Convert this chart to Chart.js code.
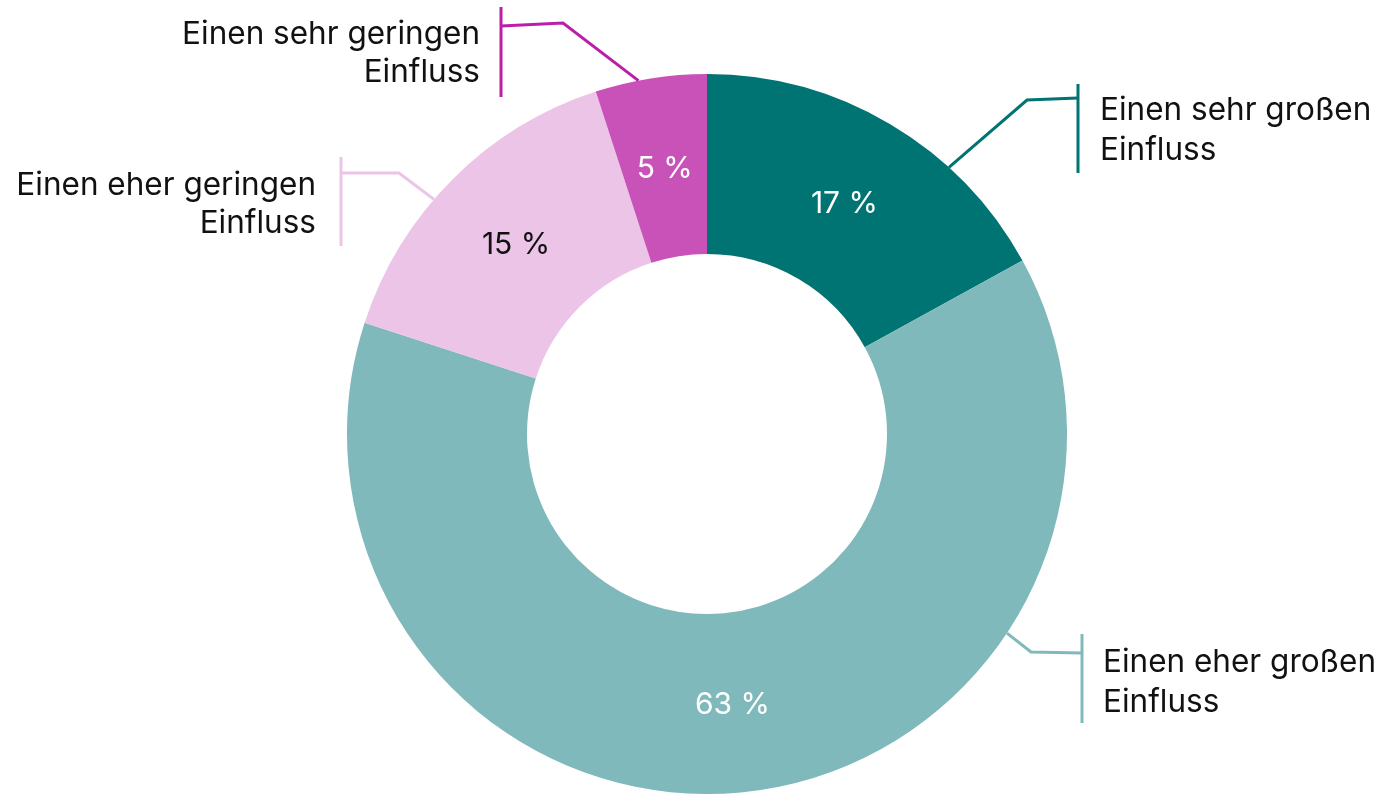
<!DOCTYPE html>
<html>
<head>
<meta charset="utf-8">
<script src="https://cdn.jsdelivr.net/npm/chart.js@4"></script>
<style>
    html, body { margin: 0; padding: 0; background: #ffffff; }
    #wrap { width: 1383px; height: 794px; position: relative; }
</style>
</head>
<body>
<div id="wrap"><canvas id="influenceChart"></canvas></div>
<script>
// Datos del gráfico
const categories = [
    ['Einen sehr großen', 'Einfluss'],
    ['Einen eher großen', 'Einfluss'],
    ['Einen eher geringen', 'Einfluss'],
    ['Einen sehr geringen', 'Einfluss']
];
const shares = [17, 63, 15, 5];
const sliceColors = ['#007373', '#80b9bb', '#ecc4e8', '#c952b9'];
const leaderColors = ['#007373', '#80b9bb', '#ecc4e8', '#bb1ea8'];
const valueTextColors = ['#ffffff', '#ffffff', '#111111', '#ffffff'];

// Posición de las líneas guía (fracción dentro del arco, codo, barra, texto)
const leaderLayout = [
    { at: 0.69, elbow: [1027, 100], barX: 1078, barY: 98, bar: [84, 173], textX: 1100, align: 'left', lines: [109, 149] },
    { at: 0.275, elbow: [1031, 652], barX: 1082, barY: 653, bar: [634, 723], textX: 1103, align: 'left', lines: [661, 701] },
    { at: 0.42, elbow: [399, 173], barX: 341, barY: 173, bar: [157, 246], textX: 316, align: 'right', lines: [184, 222] },
    { at: 0.39, elbow: [563, 23], barX: 501, barY: 26, bar: [7, 97], textX: 480, align: 'right', lines: [33, 71] }
];

const FONT = 'Inter, "Noto Sans", sans-serif';
const CAP = 0.727; // altura de mayúsculas de Inter

// Etiquetas de porcentaje y líneas guía
const labelPlugin = {
    id: 'labelPlugin',
    afterDatasetsDraw(chart) {
        const ctx = chart.ctx;
        const meta = chart.getDatasetMeta(0);
        meta.data.forEach((arc, i) => {
            const p = arc.getProps(['x', 'y', 'startAngle', 'endAngle', 'innerRadius', 'outerRadius'], true);
            const mid = (p.startAngle + p.endAngle) / 2;
            const r = (p.innerRadius + p.outerRadius) / 2;

            // porcentaje dentro del segmento
            const vSize = 30;
            ctx.save();
            ctx.font = '400 ' + vSize + 'px ' + FONT;
            ctx.fillStyle = valueTextColors[i];
            ctx.textAlign = 'center';
            ctx.textBaseline = 'alphabetic';
            ctx.fillText(shares[i] + ' %', p.x + Math.cos(mid) * r, p.y + Math.sin(mid) * r + vSize * CAP / 2);
            ctx.restore();

            // línea guía
            const lay = leaderLayout[i];
            const a = p.startAngle + (p.endAngle - p.startAngle) * lay.at;
            const sx = p.x + Math.cos(a) * p.outerRadius;
            const sy = p.y + Math.sin(a) * p.outerRadius;
            ctx.save();
            ctx.strokeStyle = leaderColors[i];
            ctx.lineWidth = 3;
            ctx.beginPath();
            ctx.moveTo(sx, sy);
            ctx.lineTo(lay.elbow[0], lay.elbow[1]);
            ctx.lineTo(lay.barX, lay.barY);
            ctx.stroke();
            ctx.beginPath();
            ctx.moveTo(lay.barX, lay.bar[0]);
            ctx.lineTo(lay.barX, lay.bar[1]);
            ctx.stroke();

            // texto de la categoría
            const tSize = 31.5;
            ctx.font = '400 ' + tSize + 'px ' + FONT;
            ctx.fillStyle = '#111111';
            ctx.textAlign = lay.align;
            ctx.textBaseline = 'alphabetic';
            categories[i].forEach((line, j) => {
                ctx.fillText(line, lay.textX, lay.lines[j] + tSize * CAP / 2);
            });
            ctx.restore();
        });
    }
};

const ctx = document.getElementById('influenceChart').getContext('2d');
new Chart(ctx, {
    type: 'doughnut',
    data: {
        labels: categories.map(c => c.join(' ')),
        datasets: [{
            data: shares,
            backgroundColor: sliceColors,
            borderWidth: 0
        }]
    },
    options: {
        responsive: true,
        maintainAspectRatio: false,
        animation: false,
        cutout: '50%',
        layout: {
            padding: { left: 346, right: 315, top: 74, bottom: -2 }
        },
        plugins: {
            legend: { display: false },
            tooltip: { enabled: false }
        }
    },
    plugins: [labelPlugin]
});
</script>
</body>
</html>
